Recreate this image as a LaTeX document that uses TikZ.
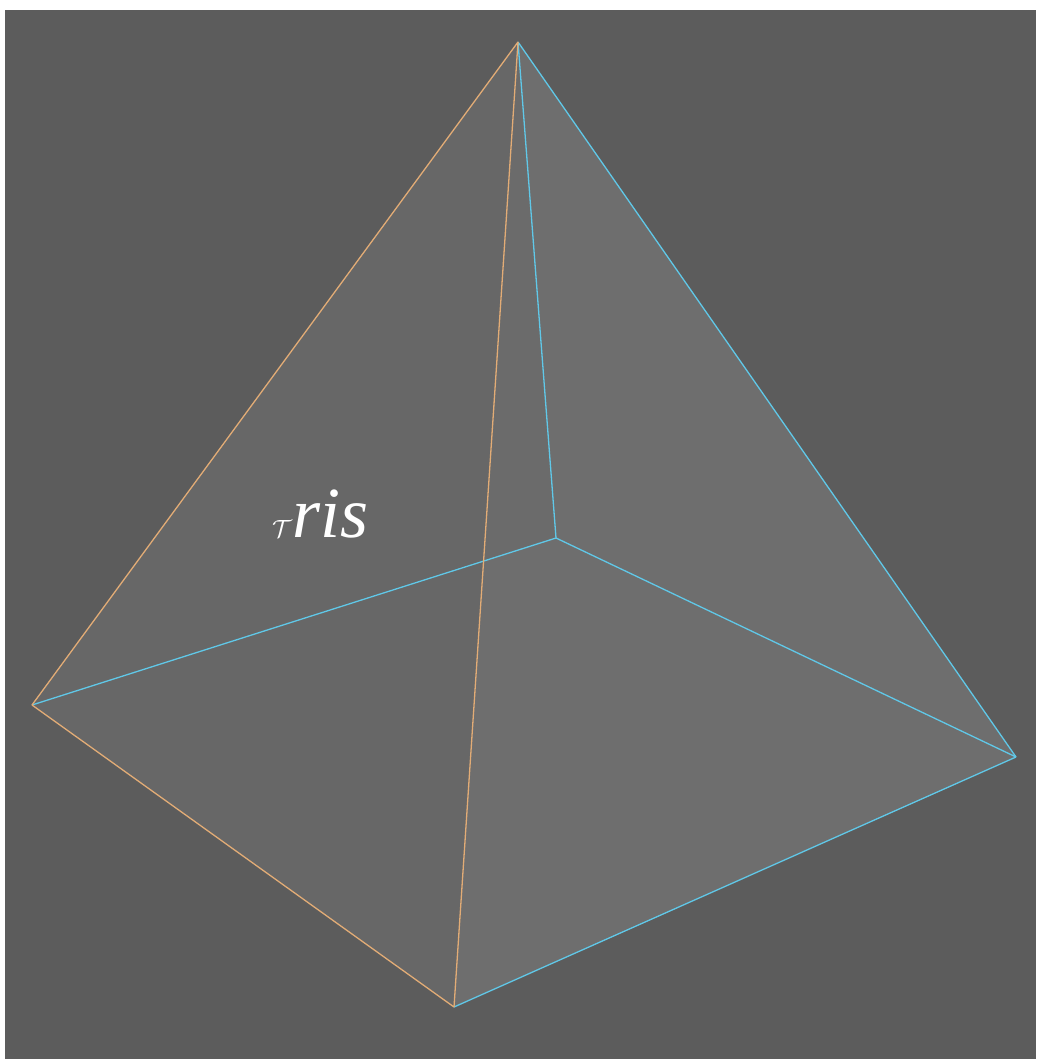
\documentclass[tikz,border=0pt]{standalone}
\usepackage{fontspec}
\setmainfont{Liberation Serif}
\tikzset{
  orangeedge/.style={draw={rgb,255:red,226;green,172;blue,118},line width=1.3pt},
  blueedge/.style={draw={rgb,255:red,96;green,200;blue,232},line width=1.3pt},
  label/.style={text=white,inner sep=0pt,font=\fontsize{72}{72}\selectfont\itshape}
}
\begin{document}
\begin{tikzpicture}[x=1pt,y=-1pt]
\useasboundingbox (0,0) rectangle (1036,1059);
\fill[white] (0,0) rectangle (1036,1059);
\fill[fill={rgb,255:red,92;green,92;blue,92}] (5,10) rectangle (1036,1059);
\coordinate (A) at (518,42);
\coordinate (L) at (32,705);
\coordinate (B) at (454,1007);
\coordinate (R) at (1016,757);
\coordinate (C) at (556,538);
\coordinate (X) at (484,560);
\fill[fill={rgb,255:red,103;green,103;blue,103}] (A) -- (L) -- (X) -- cycle;
\fill[fill={rgb,255:red,103;green,103;blue,103}] (L) -- (B) -- (X) -- cycle;
\fill[fill={rgb,255:red,107;green,107;blue,107}] (A) -- (X) -- (C) -- cycle;
\fill[fill={rgb,255:red,110;green,110;blue,110}] (A) -- (C) -- (R) -- cycle;
\fill[fill={rgb,255:red,110;green,110;blue,110}] (X) -- (C) -- (R) -- (B) -- cycle;
\draw[blueedge] (L) -- (C);
\draw[blueedge] (C) -- (R);
\draw[blueedge] (A) -- (C);
\draw[blueedge] (A) -- (R);
\draw[blueedge] (B) -- (R);
\draw[orangeedge] (A) -- (L);
\draw[orangeedge] (L) -- (B);
\draw[orangeedge] (A) -- (B);
\node[label,anchor=base west] (tris) at (272,537) {$\mathcal{T}$ris};
\end{tikzpicture}
\end{document}
